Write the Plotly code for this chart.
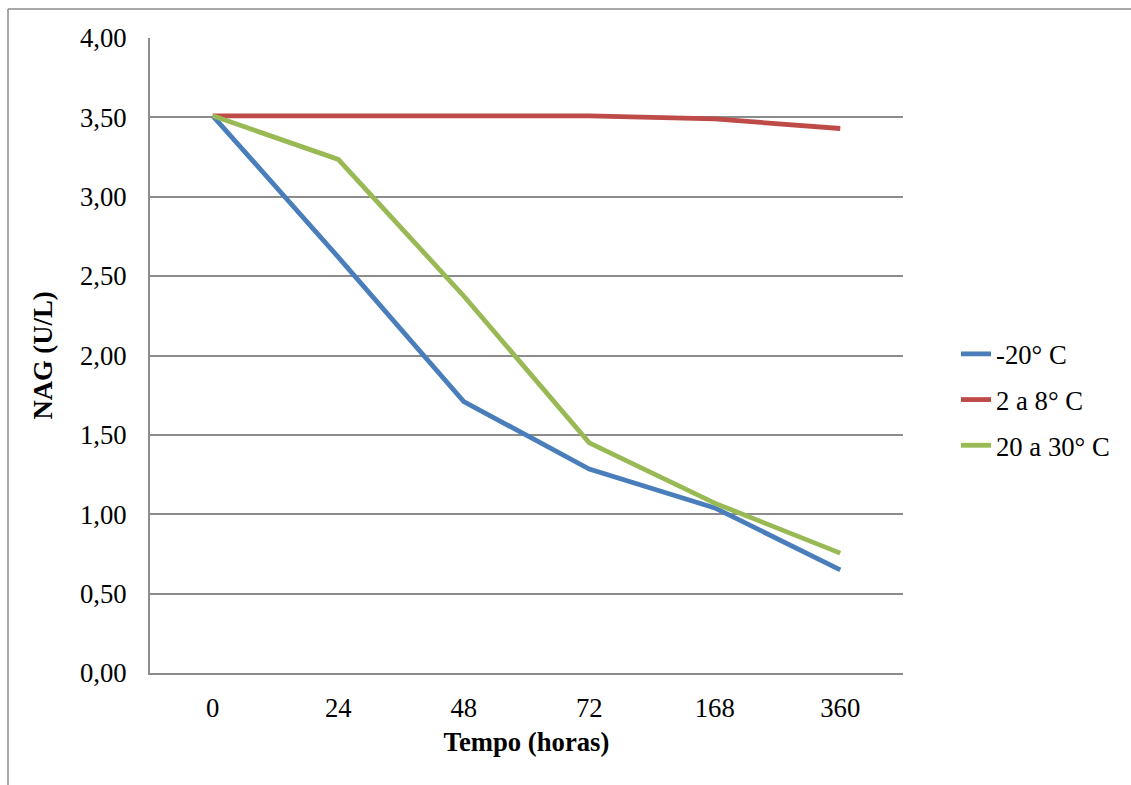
import plotly.graph_objects as go

categorias = ["0", "24", "48", "72", "168", "360"]
menos20 = [3.51, 2.62, 1.71, 1.285, 1.04, 0.65]
de2a8 = [3.51, 3.51, 3.51, 3.51, 3.49, 3.43]
de20a30 = [3.51, 3.235, 2.375, 1.45, 1.07, 0.755]

nomes = ["-20° C", "2 a 8° C", "20 a 30° C"]
cores = ["#4A7EBB", "#BE4B48", "#98B954"]
series = [menos20, de2a8, de20a30]

FONT = "Liberation Serif, Times New Roman, DejaVu Serif, serif"
FS = 26.7

fig = go.Figure()
for i, (nome, cor, vals) in enumerate(zip(nomes, cores, series)):
    fig.add_trace(go.Scatter(
        x=categorias, y=vals, mode="lines", name=nome,
        line=dict(color=cor, width=4.8), legendgroup=f"g{i}",
    ))

W, H = 1131, 785
L, R, T, B = 150, 903, 38, 673
fig.update_layout(
    width=W, height=H,
    margin=dict(l=L, r=W - R, t=T, b=H - B),
    paper_bgcolor="white", plot_bgcolor="white",
    separators=",.",
    font=dict(family=FONT, size=FS, color="black"),
    showlegend=True,
    legend=dict(x=(956 - L) / (R - L), y=(B - 400) / (B - T), xanchor="left", yanchor="middle",
                font=dict(family=FONT, size=FS), tracegroupgap=8,
                bgcolor="rgba(0,0,0,0)"),
    xaxis=dict(
        type="category", range=[-0.5, 5.5], showgrid=False,
        showline=True, linecolor="#8C8C8C", linewidth=2, ticks="",
        ticklabelstandoff=10,
        title=dict(text="<b>Tempo (horas)</b>", font=dict(family=FONT, size=FS), standoff=10),
        zeroline=False,
    ),
    yaxis=dict(
        range=[0, 4], dtick=0.5, tickformat=".2f", showgrid=True,
        gridcolor="#8C8C8C", gridwidth=1.5, showline=True, linecolor="#8C8C8C",
        linewidth=2, ticks="", ticklabelstandoff=16, zeroline=False,
        title=dict(text="<b>NAG (U/L)</b>", font=dict(family=FONT, size=FS), standoff=20),
    ),
)

# outer chart border (partially visible)
pw, ph = R - L, B - T
x0 = (8 - L) / pw
y0 = (B - 9) / ph
fig.add_shape(type="line", xref="paper", yref="paper", x0=x0, y0=y0, x1=(W + 10 - L) / pw, y1=y0,
              line=dict(color="#8C8C8C", width=1.5))
fig.add_shape(type="line", xref="paper", yref="paper", x0=x0, y0=y0, x1=x0, y1=(B - H - 10) / ph,
              line=dict(color="#8C8C8C", width=1.5))

fig.write_html("out.html")
